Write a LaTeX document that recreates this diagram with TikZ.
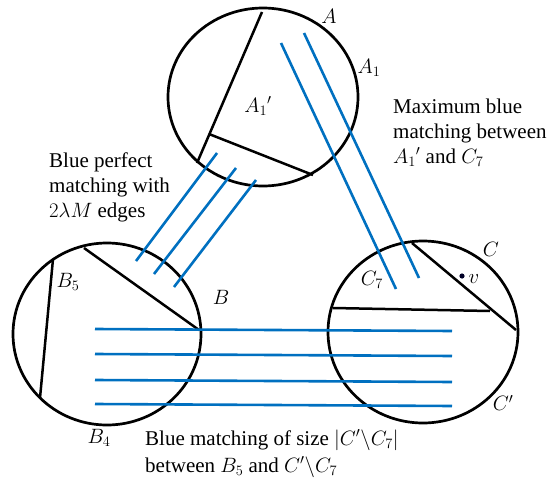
\documentclass[tikz,border=0pt]{standalone}
\usepackage{fontspec}
\setmainfont{Liberation Serif}
\begin{document}
\begin{tikzpicture}[x=1pt,y=-1pt,
  ring/.style={line width=2.7pt},
  chordline/.style={line width=2.5pt},
  bline/.style={line width=2.6pt, draw={rgb,255:red,0;green,112;blue,192}},
  txt/.style={font=\fontsize{21}{25}\selectfont, inner sep=0pt, anchor=base west, align=left},
  mlbl/.style={font=\fontsize{21}{24}\selectfont, inner sep=0pt, anchor=center}]
\useasboundingbox (0,0) rectangle (552,479);
% circles
\draw[ring] (263,97) ellipse [x radius=95pt, y radius=89pt];
\draw[ring] (107,334) ellipse [x radius=94pt, y radius=91pt];
\draw[ring] (423,332) ellipse [x radius=95pt, y radius=91pt];
% chords in A
\coordinate (a1) at (262,12);
\coordinate (a2) at (197,163);
\coordinate (a3) at (209,134);
\coordinate (a4) at (313,175);
\draw[chordline] (a1) -- (a2);
\draw[chordline] (a3) -- (a4);
% chords in B
\coordinate (b1) at (53,259);
\coordinate (b2) at (40,398);
\coordinate (b3) at (84,248);
\coordinate (b4) at (199,330);
\draw[chordline] (b1) -- (b2);
\draw[chordline] (b3) -- (b4);
% chords in C
\coordinate (c1) at (412,243);
\coordinate (c2) at (516,330);
\coordinate (c3) at (333,308);
\coordinate (c4) at (490,311);
\draw[chordline] (c1) -- (c2);
\draw[chordline] (c3) -- (c4);
% blue A-C
\coordinate (ac1s) at (281,43); \coordinate (ac1e) at (396,289);
\coordinate (ac2s) at (304,33); \coordinate (ac2e) at (419,278);
\draw[bline] (ac1s) -- (ac1e);
\draw[bline] (ac2s) -- (ac2e);
% blue A-B
\coordinate (ab1s) at (217,153); \coordinate (ab1e) at (136,261);
\coordinate (ab2s) at (236,168); \coordinate (ab2e) at (154,274);
\coordinate (ab3s) at (256,180); \coordinate (ab3e) at (174,287);
\draw[bline] (ab1s) -- (ab1e);
\draw[bline] (ab2s) -- (ab2e);
\draw[bline] (ab3s) -- (ab3e);
% blue B-C
\coordinate (bc1s) at (95,329); \coordinate (bc1e) at (452,331);
\coordinate (bc2s) at (95,354); \coordinate (bc2e) at (452,356);
\coordinate (bc3s) at (95,380); \coordinate (bc3e) at (452,382);
\coordinate (bc4s) at (95,404); \coordinate (bc4e) at (452,406);
\draw[bline] (bc1s) -- (bc1e);
\draw[bline] (bc2s) -- (bc2e);
\draw[bline] (bc3s) -- (bc3e);
\draw[bline] (bc4s) -- (bc4e);
% vertex v
\fill[black!85!blue] (462,276) circle[radius=2.6pt];
% labels
\node[mlbl] (lA) at (329,16) {$A$};
\node[mlbl] (lA1) at (369,68) {$A_1$};
\node[mlbl] (lA1p) at (258,106) {$A_1{}'$};
\node[mlbl] (lB5) at (68,282) {$B_5$};
\node[mlbl] (lB) at (221,297) {$B$};
\node[mlbl] (lB4) at (99,438) {$B_4$};
\node[mlbl] (lC) at (491,249) {$C$};
\node[mlbl] (lv) at (474,279) {$v$};
\node[mlbl] (lC7) at (372,280) {$C_7$};
\node[mlbl] (lCp) at (503,403) {$C'$};
% texts
\node[txt] (t1) at (393,163) {Maximum blue\\matching between\\$A_1{}'$ and $C_7$};
\node[txt] (t2) at (49,217) {Blue perfect\\matching with\\$2\lambda M$ edges};
\node[txt, font=\fontsize{21}{27}\selectfont] (t3) at (145,472) {Blue matching of size $|C'\backslash C_7|$\\between $B_5$ and $C'\backslash C_7$};
\end{tikzpicture}
\end{document}
